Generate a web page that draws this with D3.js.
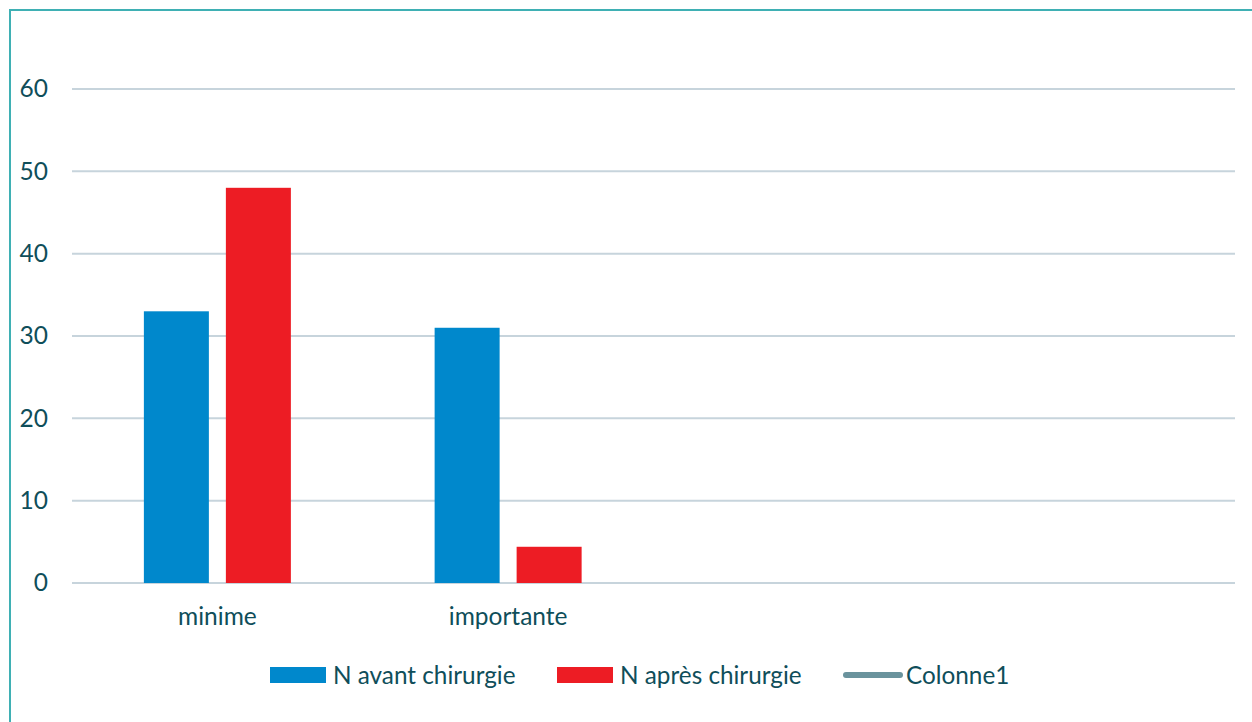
<!DOCTYPE html>
<html>
<head>
<meta charset="utf-8">
<script src="https://cdn.jsdelivr.net/npm/d3@7"></script>
<style>
  html, body { margin: 0; padding: 0; background: #ffffff; }
  svg { display: block; }
  text { font-family: Lato, "Open Sans", sans-serif; fill: #0f4e5a; }
</style>
</head>
<body>
<svg id="chart" width="1252" height="722"></svg>
<script>
// Categories on the x axis (the last two slots are left empty)
const categories = ["minime", "importante", "", " "];
// Series names and values
const seriesNames = ["N avant chirurgie", "N après chirurgie"];
const avantValues = [33, 31, null, null];
const apresValues = [48, 4.4, null, null];
const colonne1Name = "Colonne1";
// Y tick labels
const yTicks = [0, 10, 20, 30, 40, 50, 60];

const colors = { "N avant chirurgie": "#0088cc", "N après chirurgie": "#ed1c24" };
const colonne1Color = "#6a939d";
const textColor = "#0f4e5a";

const svg = d3.select("#chart");
const W = 1252, H = 722;
const margin = { left: 72, right: 17, top: 89, bottom: 139 };
const plotW = W - margin.left - margin.right;
const plotH = H - margin.top - margin.bottom;

// Frame (left and top edges)
svg.append("line").attr("x1", 10).attr("x2", 10).attr("y1", 10).attr("y2", H)
  .attr("stroke", "#3fb0b4").attr("stroke-width", 2);
svg.append("line").attr("x1", 9).attr("x2", W).attr("y1", 10).attr("y2", 10)
  .attr("stroke", "#3fb0b4").attr("stroke-width", 2);

const g = svg.append("g").attr("transform", `translate(${margin.left},${margin.top})`);

const x0 = d3.scaleBand().domain(categories).range([0, plotW]).padding(0);
const x1 = d3.scaleBand().domain(seriesNames).range([0, x0.bandwidth()])
  .paddingInner(17 / 82).paddingOuter(0.8765);
const y = d3.scaleLinear().domain([0, 60]).range([plotH, 0]);

// Gridlines
g.append("g").selectAll("line").data(yTicks).join("line")
  .attr("x1", 0).attr("x2", plotW)
  .attr("y1", d => y(d)).attr("y2", d => y(d))
  .attr("stroke", "#c7d4dc").attr("stroke-width", 2);

// Y axis labels
const yAxis = d3.axisLeft(y).tickValues(yTicks).tickSize(0).tickPadding(24);
g.append("g").call(yAxis)
  .call(s => s.select(".domain").remove())
  .call(s => s.selectAll("text").attr("font-size", 24.5).style("font-family", "Lato, sans-serif").attr("fill", textColor));

// Bars
const rows = categories.map((c, i) => ({ cat: c, vals: [
  { s: seriesNames[0], v: avantValues[i] },
  { s: seriesNames[1], v: apresValues[i] }
].filter(d => d.v != null) }));

const groups = g.append("g").selectAll("g").data(rows).join("g")
  .attr("transform", d => `translate(${x0(d.cat)},0)`);
groups.selectAll("rect").data(d => d.vals).join("rect")
  .attr("x", d => x1(d.s))
  .attr("width", x1.bandwidth())
  .attr("y", d => y(d.v))
  .attr("height", d => y(0) - y(d.v))
  .attr("fill", d => colors[d.s]);

// X axis labels
const xAxis = d3.axisBottom(x0).tickSize(0).tickPadding(25);
g.append("g").attr("transform", `translate(0,${plotH})`).call(xAxis)
  .call(s => s.select(".domain").remove())
  .call(s => s.selectAll("text").attr("font-size", 24.5).style("font-family", "Lato, sans-serif").attr("fill", textColor));

// Legend
const legendY = 675;
const legend = svg.append("g");
const items = [
  { name: seriesNames[0], type: "rect", x: 270 },
  { name: seriesNames[1], type: "rect", x: 557 },
  { name: colonne1Name, type: "line", x: 843 }
];
items.forEach(it => {
  if (it.type === "rect") {
    legend.append("rect").attr("x", it.x).attr("y", legendY - 8).attr("width", 56).attr("height", 16)
      .attr("fill", colors[it.name]);
  } else {
    legend.append("line").attr("x1", it.x + 3).attr("x2", it.x + 57).attr("y1", legendY).attr("y2", legendY)
      .attr("stroke", colonne1Color).attr("stroke-width", 6).attr("stroke-linecap", "round");
  }
  legend.append("text").attr("x", it.x + 63).attr("y", legendY).attr("dy", "0.35em")
    .attr("font-size", 24.3).text(it.name);
});
</script>
</body>
</html>
